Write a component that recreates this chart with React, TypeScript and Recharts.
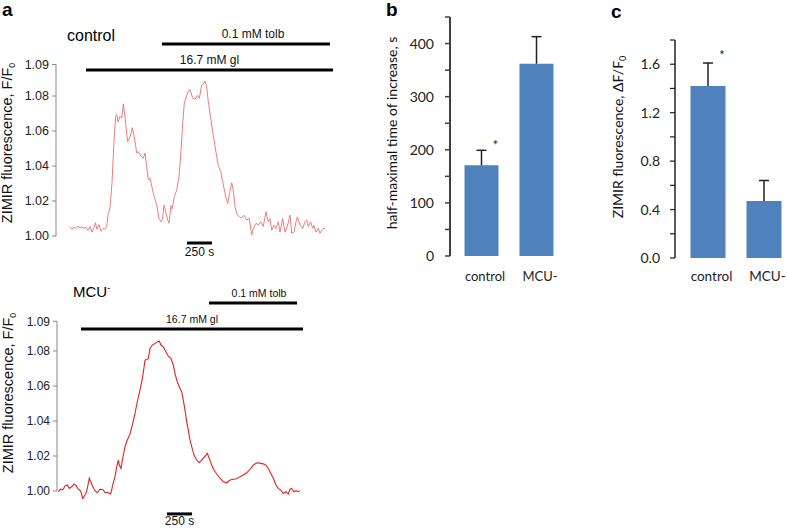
import React from 'react';
import { LineChart, Line, XAxis, YAxis, ReferenceLine, BarChart, Bar } from 'recharts';

// ---------- panel a: control trace (time s, F/F0) ----------
const ctrlTime = [140,160,180,200,220,240,260,280,300,320,340,360,380,395,410,430,450,470,490,507,520,540,560,580,597,607,620,640,657,673,690,700,717,740,763,783,807,823,850,873,890,907,923,940,973,1007,1030,1050,1065,1080,1100,1117,1130,1150,1163,1183,1207,1230,1250,1267,1283,1307,1325,1340,1367,1390,1413,1433,1457,1473,1490,1507,1523,1547,1573,1600,1623,1647,1673,1700,1717,1733,1757,1773,1790,1813,1833,1857,1880,1907,1933,1957,1973,2000,2023,2047,2073,2100,2123,2140,2157,2180,2200,2223,2240,2267,2290,2313,2340,2357,2380,2400,2413,2440,2467,2490,2507,2523,2547,2567,2580,2600,2623,2640,2657,2673,2690];
const ctrlF = [1.0053,1.0038,1.0049,1.0043,1.0056,1.0046,1.0052,1.0043,1.005,1.0033,1.0054,1.0022,1.0049,1.0076,1.0038,1.0065,1.0027,1.0043,1.0038,1.0054,1.0119,1.0163,1.0304,1.0543,1.0684,1.0695,1.0651,1.0684,1.0673,1.0755,1.0684,1.0619,1.0539,1.0565,1.0619,1.0565,1.0474,1.0482,1.0456,1.0445,1.0474,1.0396,1.032,1.0331,1.0244,1.0177,1.0101,1.0081,1.0098,1.0177,1.013,1.0091,1.0073,1.0174,1.0155,1.0225,1.0261,1.0337,1.0489,1.0641,1.076,1.0803,1.0831,1.0836,1.0787,1.0782,1.0803,1.0787,1.0863,1.0869,1.0886,1.0853,1.0768,1.0673,1.0575,1.0478,1.0402,1.0369,1.0293,1.0217,1.0185,1.0235,1.0304,1.0261,1.0167,1.0119,1.0111,1.0103,1.0119,1.0092,1.0101,1.0005,1.0043,1.0073,1.0063,1.0081,1.0054,1.0139,1.0081,1.0098,1.0033,1.0063,1.0043,1.0081,1.0022,1.0101,1.0022,1.0054,1.0119,1.0015,1.0022,1.0081,1.0109,1.0065,1.0043,1.0081,1.0092,1.0054,1.0081,1.0043,1.006,1.0022,1.0043,1.0015,1.0033,1.0043,1.0043];

// ---------- panel a: MCU- trace ----------
const mcuTime = [13,37,57,80,103,123,147,170,190,213,237,257,280,297,313,323,337,357,380,403,430,457,480,513,537,557,580,597,613,623,640,657,680,703,730,757,780,803,830,857,880,897,913,930,953,980,1003,1023,1040,1063,1090,1113,1140,1163,1180,1203,1230,1247,1263,1280,1297,1313,1330,1347,1370,1397,1423,1447,1470,1490,1503,1523,1547,1570,1597,1630,1663,1697,1730,1763,1797,1830,1863,1897,1923,1947,1963,1990,2013,2037,2063,2090,2113,2137,2163,2190,2213,2237,2263,2290,2313,2330,2347,2370,2390,2413,2430];
const mcuF = [0.9996,1.001,1.0006,1.0029,1.0034,1.0015,1.0024,1.004,1.0032,1.001,0.9999,0.9958,0.9977,0.9998,1.0044,1.0073,1.0054,1.0025,1.0002,0.999,1.001,1.0009,0.9992,0.999,0.9983,1.0034,1.0082,1.0138,1.0177,1.0148,1.0129,1.0187,1.0253,1.0291,1.0325,1.0386,1.0443,1.051,1.0576,1.0652,1.0748,1.0751,1.0756,1.0814,1.0834,1.0843,1.0852,1.0856,1.0834,1.0824,1.0794,1.077,1.0758,1.0719,1.0671,1.0623,1.0586,1.0567,1.0519,1.0462,1.0396,1.0348,1.0291,1.0253,1.0205,1.0177,1.0162,1.0177,1.0192,1.0205,1.0215,1.0187,1.0148,1.012,1.0097,1.0073,1.0053,1.0047,1.0063,1.0067,1.007,1.0082,1.0091,1.0104,1.012,1.0135,1.0148,1.0158,1.0161,1.0158,1.0155,1.0148,1.0129,1.0101,1.0073,1.0034,1.0015,1.0005,0.9987,0.9996,0.9983,1.001,1.0015,0.9996,1.0002,0.9996,1.0002];

// axis ticks (top tick is the axis end, printed as 1.09)
const ctrlTicks = [1.0, 1.02, 1.04, 1.06, 1.08, 1.098];
const mcuTicks = [1.0, 1.02, 1.04, 1.06, 1.08, 1.097];

// annotation bars: [start s, end s], level in F/F0
const ctrlGl = [300, 2770];
const ctrlGlLevel = 1.0949;
const ctrlTolb = [1060, 2740];
const ctrlTolbLevel = 1.1097;
const ctrlScale = [1310, 1560];
const ctrlScaleLevel = 0.996;

const mcuGl = [240, 2460];
const mcuGlLevel = 1.0926;
const mcuTolb = [1520, 2400];
const mcuTolbLevel = 1.1074;
const mcuScale = [1100, 1350];
const mcuScaleLevel = 0.9869;

// ---------- panel b ----------
const groups = ['control', 'MCU-'];
const halfTime = [171, 362];
const halfTimeErr = [28, 51];
const halfTimeTicks = [0, 50, 100, 150, 200, 250, 300, 350, 400, 450];

// ---------- panel c ----------
const deltaF = [1.42, 0.47];
const deltaFErr = [0.19, 0.17];
const deltaFTicks = [0, 0.2, 0.4, 0.6, 0.8, 1.0, 1.2, 1.4, 1.6, 1.8];

const signif = ['*', ''];

const ARIAL = '"Liberation Sans", Arial, sans-serif';
const CALIBRI = 'Lato, "Open Sans", sans-serif';
const BLUE = '#4F81BD';

const ctrlData = ctrlTime.map((t, i) => ({ t, f: ctrlF[i] }));
const mcuData = mcuTime.map((t, i) => ({ t, f: mcuF[i] }));
const bData = groups.map((name, i) => ({ name, mean: halfTime[i], err: halfTimeErr[i], sig: signif[i] }));
const cData = groups.map((name, i) => ({ name, mean: deltaF[i], err: deltaFErr[i], sig: signif[i] }));

function traceLabel(baseX: number, centerY: number, size: number) {
  return (props: any) => {
    return (
      <text
        x={baseX}
        y={centerY}
        transform={`rotate(-90, ${baseX}, ${centerY})`}
        textAnchor="middle"
        fontFamily={ARIAL}
        fontSize={size}
        fill="#111"
      >
        <tspan>ZIMIR fluorescence, F/F</tspan>
        <tspan fontSize={size * 0.6} dy={3}>0</tspan>
      </text>
    );
  };
}

function ErrShape(asterDy: number) {
  return (props: any) => {
    const { x, y, width, height, payload } = props;
    const cx = x + width / 2;
    return (
      <g>
        <line x1={cx} y1={y + height} x2={cx} y2={y} stroke="#222" strokeWidth={1.5} />
        <line x1={cx - 5} y1={y} x2={cx + 5} y2={y} stroke="#222" strokeWidth={1.5} />
        {payload && payload.sig ? (
          <text x={cx + 14} y={y + asterDy} textAnchor="middle" fontFamily={CALIBRI} fontSize={13} fill="#222">
            {payload.sig}
          </text>
        ) : null}
      </g>
    );
  };
}

function TracePanel(props: any) {
  const { data, ticks, domainMax, gl, glLevel, tolb, tolbLevel, scale, scaleLevel, margin, height, yWidth, color, tickSize, labelX, labelY, labelSize, annSize, tolbDx, annOff, scaleOff, lineW } = props;
  const top = ticks[ticks.length - 1];
  return (
    <LineChart width={props.width} height={height} data={data} margin={margin}>
      <XAxis dataKey="t" type="number" domain={[0, domainMax]} hide allowDataOverflow />
      <YAxis
        type="number"
        domain={[0.99, 1.1]}
        allowDataOverflow
        ticks={ticks}
        interval={0}
        tickFormatter={(v: number) => (Math.floor(v * 100 + 1e-6) / 100).toFixed(2)}
        width={yWidth}
        axisLine={false}
        tickLine={{ stroke: '#888' }}
        tickSize={4}
        tickMargin={3}
        tick={{ fontSize: tickSize, fill: '#222', fontFamily: ARIAL }}
        label={traceLabel(labelX, labelY, labelSize)}
      />
      <ReferenceLine segment={[{ x: 0, y: 1.0 }, { x: 0, y: top }]} stroke="#888" strokeWidth={1} ifOverflow="visible" />
      <ReferenceLine
        segment={[{ x: gl[0], y: glLevel }, { x: gl[1], y: glLevel }]}
        stroke="#000"
        strokeWidth={3}
        ifOverflow="visible"
        label={{ value: '16.7 mM gl', position: 'top', offset: annOff, fontSize: annSize, fill: '#111', fontFamily: ARIAL }}
      />
      <ReferenceLine
        segment={[{ x: tolb[0], y: tolbLevel }, { x: tolb[1], y: tolbLevel }]}
        stroke="#000"
        strokeWidth={3}
        ifOverflow="visible"
        label={{ value: '0.1 mM tolb', position: 'top', offset: annOff, dx: tolbDx, fontSize: annSize, fill: '#111', fontFamily: ARIAL }}
      />
      <ReferenceLine
        segment={[{ x: scale[0], y: scaleLevel }, { x: scale[1], y: scaleLevel }]}
        stroke="#000"
        strokeWidth={3}
        ifOverflow="visible"
        label={{ value: '250 s', position: 'bottom', offset: scaleOff, fontSize: 12, fill: '#111', fontFamily: ARIAL }}
      />
      <Line dataKey="f" type="linear" stroke={color} strokeWidth={lineW} dot={false} isAnimationActive={false} />
    </LineChart>
  );
}

export default function App() {
  return (
    <div style={{ position: 'fixed', left: 0, top: 0, width: 787, height: 528, overflow: 'hidden', background: '#fff', fontFamily: ARIAL }}>
      {/* panel letters and titles */}
      <div style={{ position: 'absolute', left: 2, top: 0, fontSize: 19, fontWeight: 'bold', lineHeight: '20px' }}>a</div>
      <div style={{ position: 'absolute', left: 386, top: 0, fontSize: 19, fontWeight: 'bold', lineHeight: '20px' }}>b</div>
      <div style={{ position: 'absolute', left: 611, top: 2, fontSize: 19, fontWeight: 'bold', lineHeight: '20px' }}>c</div>
      <div style={{ position: 'absolute', left: 67, top: 27, fontSize: 16, lineHeight: '18px' }}>control</div>
      <div style={{ position: 'absolute', left: 73, top: 283, fontSize: 15, lineHeight: '18px' }}>
        MCU<sup style={{ fontSize: 9, verticalAlign: 'top', lineHeight: '10px' }}>-</sup>
      </div>

      <div style={{ position: 'absolute', left: 0, top: 0 }}>
        <TracePanel
          width={345}
          height={262}
          data={ctrlData}
          ticks={ctrlTicks}
          domainMax={2790}
          margin={{ top: 61, right: 10, bottom: 8.5, left: 0 }}
          yWidth={56}
          gl={ctrlGl}
          glLevel={ctrlGlLevel}
          tolb={ctrlTolb}
          tolbLevel={ctrlTolbLevel}
          scale={ctrlScale}
          scaleLevel={ctrlScaleLevel}
          color="#F07C7C"
          lineW={1}
          tickSize={12.5}
          labelX={12}
          labelY={143}
          labelSize={14.5}
          annSize={12}
          tolbDx={7}
          annOff={6}
          scaleOff={4}
        />
      </div>

      <div style={{ position: 'absolute', left: 0, top: 270 }}>
        <TracePanel
          width={320}
          height={258}
          data={mcuData}
          ticks={mcuTicks}
          domainMax={2530}
          margin={{ top: 46, right: 10, bottom: 19.5, left: 0 }}
          yWidth={57}
          gl={mcuGl}
          glLevel={mcuGlLevel}
          tolb={mcuTolb}
          tolbLevel={mcuTolbLevel}
          scale={mcuScale}
          scaleLevel={mcuScaleLevel}
          color="#E42222"
          lineW={1.1}
          tickSize={12}
          labelX={13}
          labelY={123}
          labelSize={14.5}
          annSize={10.5}
          tolbDx={6}
          annOff={6}
          scaleOff={3}
        />
      </div>

      <div style={{ position: 'absolute', left: 380, top: 0 }}>
        <BarChart width={200} height={290} data={bData} margin={{ top: 17, right: 16.5, bottom: 4, left: 0 }} barSize={34}>
          <XAxis
            dataKey="name"
            axisLine={false}
            tickLine={false}
            padding={{ left: 3.5, right: 0 }}
            height={30}
            interval={0}
            tickMargin={10}
            tick={{ fontSize: 13, fill: '#222', fontFamily: CALIBRI, dx: 4 }}
          />
          <YAxis
            type="number"
            domain={[0, 450]}
            ticks={halfTimeTicks}
            interval={0}
            width={70}
            tickFormatter={(v: number) => (v % 100 === 0 ? String(v) : '')}
            axisLine={{ stroke: '#404040', strokeWidth: 2 }}
            tickLine={{ stroke: '#404040', strokeWidth: 1.5 }}
            tickSize={5}
            tickMargin={11}
            tick={{ fontSize: 14, fill: '#222', fontFamily: CALIBRI }}
            label={(p: any) => (
              <text x={17} y={133} transform="rotate(-90, 17, 133)" textAnchor="middle" fontFamily={CALIBRI} fontSize={14} fill="#111">
                half-maximal time of increase, s
              </text>
            )}
          />
          <Bar dataKey="mean" stackId="s" fill={BLUE} isAnimationActive={false} />
          <Bar dataKey="err" stackId="s" fill="none" shape={ErrShape(0)} isAnimationActive={false} />
        </BarChart>
      </div>

      <div style={{ position: 'absolute', left: 590, top: 0 }}>
        <BarChart width={210} height={290} data={cData} margin={{ top: 40, right: 8.5, bottom: 4, left: 0 }} barSize={35}>
          <XAxis
            dataKey="name"
            axisLine={false}
            tickLine={false}
            padding={{ left: 4.5, right: 0 }}
            height={28}
            interval={0}
            tickMargin={7}
            tick={{ fontSize: 13.5, fill: '#222', fontFamily: CALIBRI, dx: 4 }}
          />
          <YAxis
            type="number"
            domain={[0, 1.8]}
            ticks={deltaFTicks}
            interval={0}
            width={85}
            tickFormatter={(v: number) => (Math.round(v * 10) % 4 === 0 ? v.toFixed(1) : '')}
            axisLine={{ stroke: '#222', strokeWidth: 1.5 }}
            tickLine={{ stroke: '#222', strokeWidth: 1.2 }}
            tickSize={5}
            tickMargin={10}
            tick={{ fontSize: 14, fill: '#222', fontFamily: CALIBRI }}
            label={(p: any) => (
              <text x={33} y={137} transform="rotate(-90, 33, 137)" textAnchor="middle" fontFamily={CALIBRI} fontSize={14} fill="#111">
                <tspan>ZIMIR fluorescence, ΔF/F</tspan>
                <tspan fontSize={9} dy={3}>0</tspan>
              </text>
            )}
          />
          <Bar dataKey="mean" stackId="s" fill={BLUE} isAnimationActive={false} />
          <Bar dataKey="err" stackId="s" fill="none" shape={ErrShape(-3)} isAnimationActive={false} />
        </BarChart>
      </div>
    </div>
  );
}
